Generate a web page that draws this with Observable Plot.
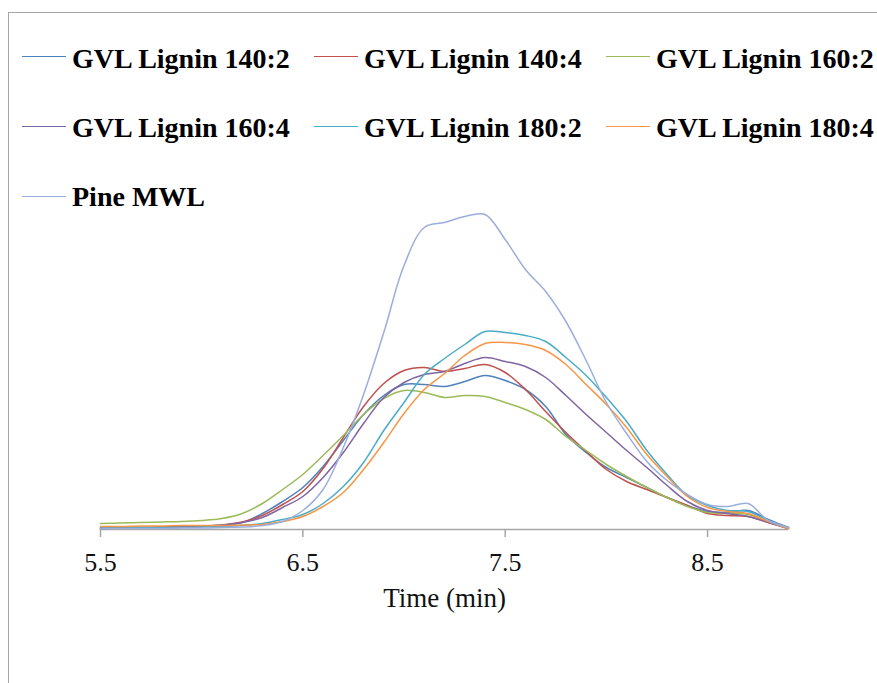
<!DOCTYPE html>
<html><head><meta charset="utf-8">
<script src="https://cdn.jsdelivr.net/npm/d3@7"></script>
<script src="https://cdn.jsdelivr.net/npm/@observablehq/plot@0.6"></script>
<style>
body{margin:0;background:#fff;}
#wrap{position:relative;width:877px;height:683px;overflow:hidden;background:#fff;}
#border{position:absolute;left:8px;top:12px;width:900px;height:700px;border-left:1px solid #a6a6a6;border-top:1px solid #a6a6a6;pointer-events:none;}
#legend{position:absolute;left:0;top:0;width:877px;height:207px;}
.sw{position:absolute;width:44px;height:0;border-top:1.5px solid;}
.lb{position:absolute;font-weight:bold;font-size:28px;line-height:28px;white-space:nowrap;color:#000;}
#chart{position:absolute;left:0;top:207px;}
</style></head>
<body><div id="wrap"><div id="legend"></div><div id="chart"></div><div id="border"></div></div>
<script>
const time = [5.5,5.6,5.7,5.8,5.9,6.0,6.1,6.2,6.3,6.4,6.5,6.6,6.7,6.8,6.9,7.0,7.1,7.2,7.3,7.4,7.5,7.6,7.7,7.8,7.9,8.0,8.1,8.2,8.3,8.4,8.5,8.6,8.7,8.8,8.9];
const gvl140_2 = [1,1.5,1.5,2,2.5,3,4,7,16,28,42,63,89,115,134,145,145,143,148,154,149,140,123,95,77,62,52,42,32,24,18,17,19,10,2];
const gvl140_4 = [1.5,2,2,2.5,3,3.5,4.5,7.5,14,25,38,61,92,123,146,159,162,158,161,165,157,140,118,97,78,60,48,40,32,24,16,14,13,7,1];
const gvl160_2 = [6,6.5,7,7.5,8,9,11,16,26,40,55,74,94,115,131,139,137,132,134,133,127,120,110,93,79,65,53,42,32,23,17,16,15,8,2];
const gvl160_4 = [1.5,2,2,2.5,3,3.5,4.5,7,12,22,33,52,77,106,132,147,155,158,166,172,168,163,152,134,115,97,79,62,44,28,19,16,13,7,1];
const gvl180_2 = [1.5,1.5,2,2,2,2.5,3,4,6,10,15,26,43,67,99,127,155,171,185,198,197,194,188,172,154,132,108,79,55,34,24,19,18,9,2];
const gvl180_4 = [3,3,3.5,3.5,4,4,4,4.5,5,8,13,23,37,60,87,116,140,156,174,186,187,185,179,165,145,125,102,75,53,33,22,18,16,8,1];
const pineMWL = [1,1,1,1,1.5,1.5,2,2.5,4,8,19,40,82,135,197,264,302,307,313,315,290,260,238,208,169,127,96,68,49,35,25,23,26,9,2];

const seriesNames = ["GVL Lignin 140:2","GVL Lignin 140:4","GVL Lignin 160:2","GVL Lignin 160:4","GVL Lignin 180:2","GVL Lignin 180:4","Pine MWL"];
const seriesValues = [gvl140_2, gvl140_4, gvl160_2, gvl160_4, gvl180_2, gvl180_4, pineMWL];
const seriesColors = ["#4F81BD","#C0504D","#9BBB59","#8064A2","#4BACC6","#F79646","#9BAEDB"];
const xTicks = [5.5,6.5,7.5,8.5];
const xTitle = "Time (min)";

const SERIF = "'Liberation Serif', 'Times New Roman', serif";

// legend
const legend = document.getElementById("legend");
const colX = [22, 314, 606];
const rowLine = [57, 127, 197];
const rowBase = [68, 137, 206];
seriesNames.forEach((name, i) => {
  const c = i % 3, r = Math.floor(i / 3);
  const sw = document.createElement("div");
  sw.className = "sw";
  sw.style.left = colX[c] + "px";
  sw.style.top = (rowLine[r] - 1) + "px";
  sw.style.borderTopColor = seriesColors[i];
  legend.appendChild(sw);
  const lb = document.createElement("div");
  lb.className = "lb";
  lb.style.fontFamily = SERIF;
  lb.textContent = name;
  lb.style.left = (colX[c] + 50) + "px";
  lb.style.top = (rowBase[r] - 23.4) + "px";
  legend.appendChild(lb);
});

const rows = [];
seriesNames.forEach((name, i) => time.forEach((t, j) => rows.push({series: name, time: t, signal: seriesValues[i][j]})));

const plot = Plot.plot({
  width: 877, height: 476,
  marginLeft: 100, marginRight: 89, marginTop: 4, marginBottom: 154,
  x: {domain: [5.5, 8.9]},
  y: {domain: [0, 318], axis: null},
  color: {domain: seriesNames, range: seriesColors},
  style: {background: "transparent", fontFamily: SERIF, overflow: "visible"},
  marks: [
    Plot.ruleY([0], {stroke: "#a6a6a6", strokeWidth: 1.5}),
    Plot.axisX({ticks: xTicks, tickFormat: d => d.toFixed(1), tickSize: 8, tickPadding: 15, fontSize: 26, fontFamily: SERIF, stroke: "#a6a6a6", strokeWidth: 1.5, fill: "#111", label: null}),
    Plot.text([xTitle], {text: d => d, frameAnchor: "bottom", dy: 58, lineAnchor: "top", fontSize: 27, fontFamily: SERIF, fill: "#111"}),
    Plot.line(rows, {x: "time", y: "signal", z: "series", stroke: "series", strokeWidth: 1.5, curve: "catmull-rom"})
  ]
});
plot.style.fontFamily = SERIF;
document.getElementById("chart").appendChild(plot);
</script>
</body></html>
